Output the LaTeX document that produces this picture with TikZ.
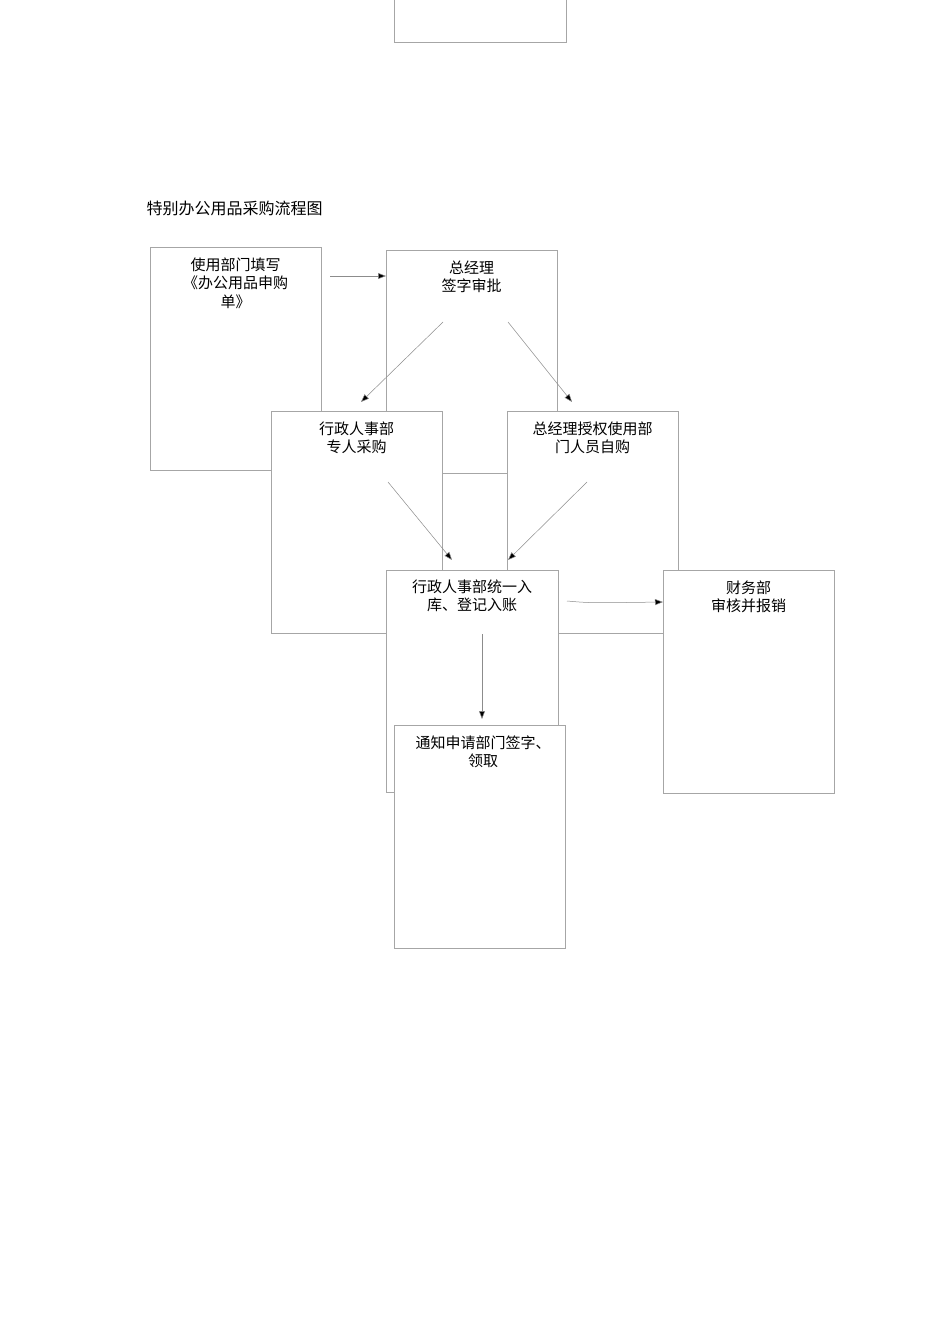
\documentclass[tikz,border=0pt]{standalone}
\usepackage{fontspec}
\newfontfamily\cjk{Noto Sans CJK SC}
\usetikzlibrary{arrows.meta}
\begin{document}
\begin{tikzpicture}[x=1pt,y=-1pt,
 box/.style={draw=black!35,line width=0.6pt,fill=white},
 lbl/.style={font=\cjk\fontsize{15}{18.5}\selectfont,align=center,anchor=north},
 arr/.style={draw=black!45,line width=0.5pt,-{Triangle[length=8pt,width=6pt,fill=black]}}]
\useasboundingbox (0,0) rectangle (950,1344);
\fill[white] (0,0) rectangle (950,1344);
\draw[box] (394,-2) rectangle (566,42);
\node[font=\cjk\fontsize{16}{19}\selectfont,anchor=west] (title) at (143,208) {特别办公用品采购流程图};
\draw[box] (150,247) rectangle (321,470);
\node[lbl] (t1) at (235.5,254) {使用部门填写\\《办公用品申购\\单》};
\draw[box] (386,250) rectangle (557,473);
\node[lbl] (t2) at (471.5,257) {总经理\\签字审批};
\draw[box] (271,411) rectangle (442,633);
\node[lbl] (t3) at (356.5,418) {行政人事部\\专人采购};
\draw[box] (507,411) rectangle (678,633);
\node[lbl] (t4) at (592.5,418) {总经理授权使用部\\门人员自购};
\draw[box] (386,570) rectangle (558,792);
\node[lbl] (t5) at (472,576) {行政人事部统一入\\库、登记入账};
\draw[box] (663,570) rectangle (834,793);
\node[lbl] (t6) at (748.5,577) {财务部\\审核并报销};
\draw[box] (394,725) rectangle (565,948);
\node[lbl] (t7) at (483,732) {通知申请部门签字、\\领取};
\coordinate (a1) at (330,276); \coordinate (b1) at (386,276);
\draw[arr] (a1) -- (b1);
\coordinate (a2) at (443,322); \coordinate (b2) at (361,402);
\draw[arr] (a2) -- (b2);
\coordinate (a3) at (508,322); \coordinate (b3) at (572,402);
\draw[arr] (a3) -- (b3);
\coordinate (a4) at (388,482); \coordinate (b4) at (452,560);
\draw[arr] (a4) -- (b4);
\coordinate (a5) at (587,482); \coordinate (b5) at (508,560);
\draw[arr] (a5) -- (b5);
\coordinate (a6) at (567,601); \coordinate (b6) at (663,602);
\draw[arr] (a6) .. controls (590,603) .. (b6);
\coordinate (a7) at (482,634); \coordinate (b7) at (482,719);
\draw[arr] (a7) -- (b7);
\end{tikzpicture}
\end{document}
